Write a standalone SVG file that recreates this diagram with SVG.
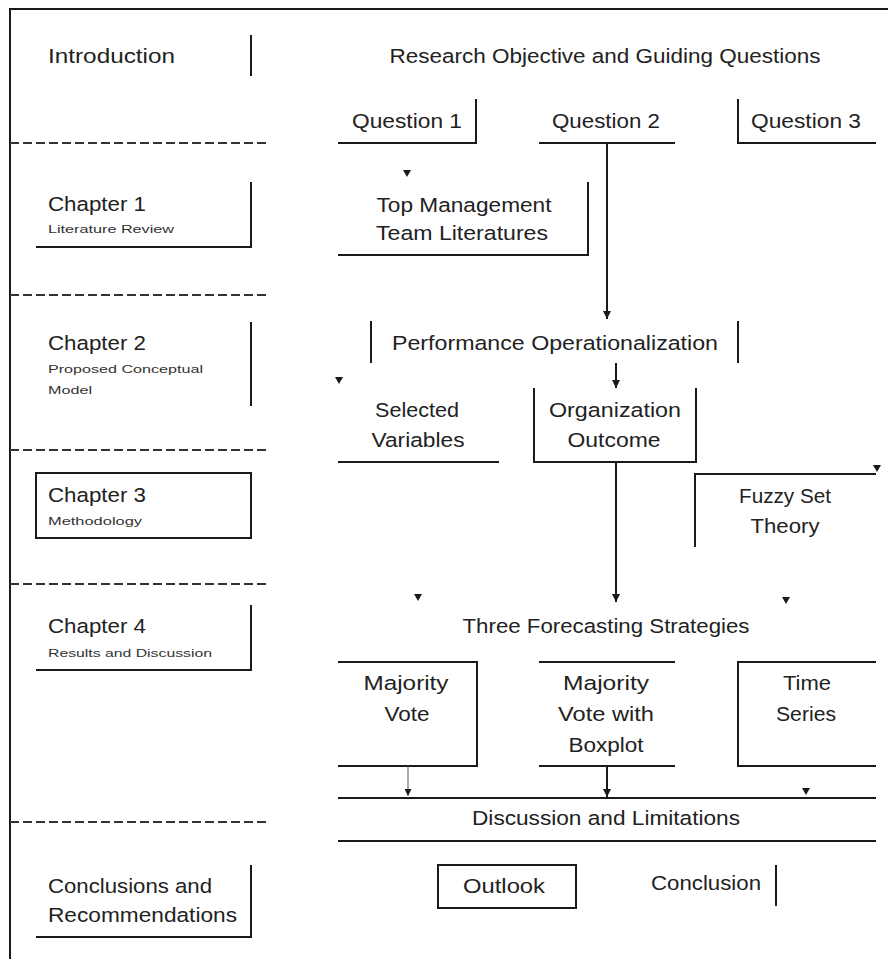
<svg xmlns="http://www.w3.org/2000/svg" width="888" height="959" viewBox="0 0 888 959">
<defs>
<style>
.ln{stroke:#1a1a1a;stroke-width:2;fill:none}
.dash{stroke:#333;stroke-width:2;stroke-dasharray:9 4;fill:none}
.t{font-family:"Liberation Sans",Arial,sans-serif;font-size:20.5px;fill:#222}
.s{font-family:"Liberation Sans",Arial,sans-serif;font-size:10px;fill:#333}
.c{text-anchor:middle}
.tri{fill:#1a1a1a}
.thin{stroke:#555;stroke-width:1;fill:none}
</style>
<marker id="ah" viewBox="0 0 8 8" refX="8" refY="4" markerWidth="8" markerHeight="8" markerUnits="userSpaceOnUse" orient="auto">
<path d="M0,0 L8,4 L0,8 z" fill="#1a1a1a"/>
</marker>
<marker id="ahs" viewBox="0 0 8 8" refX="8" refY="4" markerWidth="7" markerHeight="7" markerUnits="userSpaceOnUse" orient="auto">
<path d="M0,0 L8,4 L0,8 z" fill="#1a1a1a"/>
</marker>
</defs>
<rect width="888" height="959" fill="#fff"/>

<g id="frame">
<path class="ln" d="M10,959 V9 H888"/>
<path class="dash" d="M10,143 H270"/>
<path class="dash" d="M10,295 H270"/>
<path class="dash" d="M10,450 H270"/>
<path class="dash" d="M10,584 H270"/>
<path class="dash" d="M10,822 H270"/>
</g>

<g id="introduction">
<path class="ln" d="M251,35 V76"/>
<text class="t" x="48" y="63" textLength="127" lengthAdjust="spacingAndGlyphs">Introduction</text>
</g>

<g id="chapter1">
<path class="ln" d="M251,182 V247 H36"/>
<text class="t" x="48" y="211" textLength="98" lengthAdjust="spacingAndGlyphs">Chapter 1</text>
<text class="s" x="48" y="233" textLength="126" lengthAdjust="spacingAndGlyphs">Literature Review</text>
</g>

<g id="chapter2">
<path class="ln" d="M251,322 V406"/>
<text class="t" x="48" y="350" textLength="98" lengthAdjust="spacingAndGlyphs">Chapter 2</text>
<text class="s" x="48" y="373" textLength="155" lengthAdjust="spacingAndGlyphs">Proposed Conceptual</text>
<text class="s" x="48" y="394" textLength="44" lengthAdjust="spacingAndGlyphs">Model</text>
</g>

<g id="chapter3">
<rect class="ln" x="36" y="473" width="215" height="65"/>
<text class="t" x="48" y="502" textLength="98" lengthAdjust="spacingAndGlyphs">Chapter 3</text>
<text class="s" x="48" y="525" textLength="94" lengthAdjust="spacingAndGlyphs">Methodology</text>
</g>

<g id="chapter4">
<path class="ln" d="M251,605 V670 H36"/>
<text class="t" x="48" y="633" textLength="98" lengthAdjust="spacingAndGlyphs">Chapter 4</text>
<text class="s" x="48" y="657" textLength="164" lengthAdjust="spacingAndGlyphs">Results and Discussion</text>
</g>

<g id="conclusions-recommendations">
<path class="ln" d="M251,865 V937 H36"/>
<text class="t" x="48" y="893" textLength="164" lengthAdjust="spacingAndGlyphs">Conclusions and</text>
<text class="t" x="48" y="922" textLength="189" lengthAdjust="spacingAndGlyphs">Recommendations</text>
</g>

<g id="research-objective">
<text class="t c" x="605" y="63" textLength="431" lengthAdjust="spacingAndGlyphs">Research Objective and Guiding Questions</text>
</g>

<g id="question1">
<path class="ln" d="M476,99 V143 H338"/>
<text class="t c" x="407" y="128" textLength="110" lengthAdjust="spacingAndGlyphs">Question 1</text>
</g>

<g id="question2">
<path class="ln" d="M539,143 H675"/>
<text class="t c" x="606" y="128" textLength="108" lengthAdjust="spacingAndGlyphs">Question 2</text>
</g>

<g id="question3">
<path class="ln" d="M738,99 V143 H876"/>
<text class="t c" x="806" y="128" textLength="110" lengthAdjust="spacingAndGlyphs">Question 3</text>
</g>

<g id="tmt-literatures">
<path class="ln" d="M588,182 V255 H338"/>
<text class="t c" x="464" y="212" textLength="175" lengthAdjust="spacingAndGlyphs">Top Management</text>
<text class="t c" x="462" y="240" textLength="172" lengthAdjust="spacingAndGlyphs">Team Literatures</text>
</g>

<g id="performance-operationalization">
<path class="ln" d="M371,321 V363"/>
<path class="ln" d="M738,321 V363"/>
<text class="t c" x="555" y="350" textLength="326" lengthAdjust="spacingAndGlyphs">Performance Operationalization</text>
</g>

<g id="selected-variables">
<path class="ln" d="M338,462 H499"/>
<text class="t c" x="417" y="417" textLength="84" lengthAdjust="spacingAndGlyphs">Selected</text>
<text class="t c" x="418" y="447" textLength="93" lengthAdjust="spacingAndGlyphs">Variables</text>
</g>

<g id="organization-outcome">
<path class="ln" d="M534,388 V462 H696 V388"/>
<text class="t c" x="615" y="417" textLength="132" lengthAdjust="spacingAndGlyphs">Organization</text>
<text class="t c" x="614" y="447" textLength="93" lengthAdjust="spacingAndGlyphs">Outcome</text>
</g>

<g id="fuzzy-set-theory">
<path class="ln" d="M695,547 V474 H876"/>
<text class="t c" x="785" y="503" textLength="92" lengthAdjust="spacingAndGlyphs">Fuzzy Set</text>
<text class="t c" x="785" y="533" textLength="69" lengthAdjust="spacingAndGlyphs">Theory</text>
</g>

<g id="three-forecasting-strategies">
<text class="t c" x="606" y="633" textLength="287" lengthAdjust="spacingAndGlyphs">Three Forecasting Strategies</text>
</g>

<g id="majority-vote">
<path class="ln" d="M338,662 H477 V766 H338"/>
<text class="t c" x="406" y="690" textLength="85" lengthAdjust="spacingAndGlyphs">Majority</text>
<text class="t c" x="407" y="721" textLength="45" lengthAdjust="spacingAndGlyphs">Vote</text>
</g>

<g id="majority-vote-boxplot">
<path class="ln" d="M539,662 H675"/>
<path class="ln" d="M539,766 H675"/>
<text class="t c" x="606" y="690" textLength="86" lengthAdjust="spacingAndGlyphs">Majority</text>
<text class="t c" x="606" y="721" textLength="96" lengthAdjust="spacingAndGlyphs">Vote with</text>
<text class="t c" x="606" y="752" textLength="75" lengthAdjust="spacingAndGlyphs">Boxplot</text>
</g>

<g id="time-series">
<path class="ln" d="M876,662 H738 V766 H876"/>
<text class="t c" x="807" y="690" textLength="48" lengthAdjust="spacingAndGlyphs">Time</text>
<text class="t c" x="806" y="721" textLength="60" lengthAdjust="spacingAndGlyphs">Series</text>
</g>

<g id="discussion-limitations">
<path class="ln" d="M338,798 H876"/>
<path class="ln" d="M338,841 H876"/>
<text class="t c" x="606" y="825" textLength="268" lengthAdjust="spacingAndGlyphs">Discussion and Limitations</text>
</g>

<g id="outlook">
<rect class="ln" x="438" y="865" width="138" height="43"/>
<text class="t c" x="504" y="893" textLength="82" lengthAdjust="spacingAndGlyphs">Outlook</text>
</g>

<g id="conclusion">
<path class="ln" d="M776,865 V906"/>
<text class="t c" x="706" y="890" textLength="110" lengthAdjust="spacingAndGlyphs">Conclusion</text>
</g>

<g id="connectors">
<path class="ln" d="M607,143 V319" marker-end="url(#ah)"/>
<path class="ln" d="M616,363 V388" marker-end="url(#ah)"/>
<path class="ln" d="M616,462 V602" marker-end="url(#ah)"/>
<path class="ln" d="M607,766 V797" marker-end="url(#ah)"/>
<path class="thin" d="M408,766 V796" marker-end="url(#ahs)"/>
<path class="tri" d="M403,170 H411 L407,177 z"/>
<path class="tri" d="M335,377 H343 L339,384 z"/>
<path class="tri" d="M873,465 H881 L877,472 z"/>
<path class="tri" d="M414,594 H422 L418,601 z"/>
<path class="tri" d="M782,597 H790 L786,604 z"/>
<path class="tri" d="M802,788 H810 L806,795 z"/>
</g>
</svg>
